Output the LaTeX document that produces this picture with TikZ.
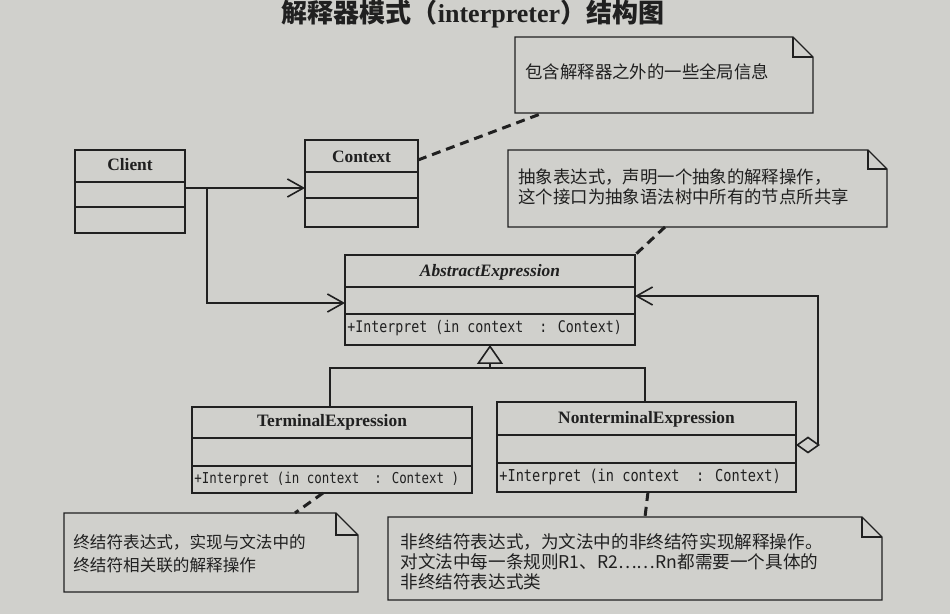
\documentclass[tikz,border=0pt]{standalone}
\usepackage{fontspec}
\setmainfont{Liberation Serif}
\newfontfamily\cjk{Noto Sans CJK SC}
\newfontfamily\opfont[FakeStretch=0.83]{DejaVu Sans Mono}
\usetikzlibrary{arrows.meta}
\definecolor{paper}{RGB}{208,208,204}
\definecolor{ink}{RGB}{32,32,32}
%% note frame with a folded corner: #1 node, #2 fold size
\newcommand\dognote[2]{%
  \draw[noteline] (#1.north west) -- ([xshift=-#2]#1.north east)
    -- ([yshift=-#2]#1.north east) -- (#1.south east) -- (#1.south west) -- cycle;
  \draw[noteline] ([xshift=-#2]#1.north east) |- ([yshift=-#2]#1.north east);
}
\begin{document}
\begin{tikzpicture}[x=0.5pt,y=-0.5pt,
    umlclass/.style={draw=ink,line width=0.8pt,inner sep=0pt,outer sep=0pt,anchor=north west},
    notebody/.style={inner sep=0pt,outer sep=0pt,anchor=north west},
    noteline/.style={draw=ink,line width=0.7pt},
    clsname/.style={font=\fontsize{8.7}{10}\selectfont\bfseries,text=ink},
    opname/.style={font=\opfont\fontsize{8}{10}\selectfont,text=ink,anchor=west,inner sep=1pt},
    notetext/.style={font=\cjk\fontsize{8.7}{10}\selectfont,align=left,anchor=west,inner sep=0pt,text=ink},
    wire/.style={draw=ink,line width=0.8pt},
    assoc/.style={wire,-{Straight Barb[length=8pt,width=9pt]}},
    generalize/.style={wire,-{Triangle[open,length=9.5pt,width=13pt]}},
    aggregate/.style={wire,{Diamond[open,length=12pt,width=8.5pt]}-{Straight Barb[length=8pt,width=9pt]}},
    notelink/.style={draw=ink,line width=1.5pt,dash pattern=on 4.5pt off 3pt}]
    %% Paper
    \fill[paper] (0,0) rectangle (950,614);
    \useasboundingbox (0,0) rectangle (950,614);
    %% Title
    \node[anchor=base,inner sep=0pt,text=ink,font=\fontsize{13}{15}\selectfont\bfseries] (title) at (473,23)
        {{\cjk 解释器模式（}interpreter{\cjk ）结构图}};
    %% Client
    \node[umlclass,minimum width=55pt,minimum height=41.5pt] (client) at (75,150) {};
    \draw[wire] (client.west |- 0,182) -- (client.east |- 0,182);
    \draw[wire] (client.west |- 0,207) -- (client.east |- 0,207);
    \node[clsname] (clientname) at (client.north |- 0,165) {Client};
    %% Context
    \node[umlclass,minimum width=56.5pt,minimum height=43.5pt] (context) at (305,140) {};
    \draw[wire] (context.west |- 0,172) -- (context.east |- 0,172);
    \draw[wire] (context.west |- 0,198) -- (context.east |- 0,198);
    \node[clsname] (contextname) at (context.north |- 0,157) {Context};
    %% AbstractExpression
    \node[umlclass,minimum width=145pt,minimum height=45pt] (abstract) at (345,255) {};
    \draw[wire] (abstract.west |- 0,287) -- (abstract.east |- 0,287);
    \draw[wire] (abstract.west |- 0,314) -- (abstract.east |- 0,314);
    \node[clsname,font=\fontsize{8.7}{10}\selectfont\bfseries\itshape] (abstractname) at (abstract.north |- 0,272) {AbstractExpression};
    \node[opname] (abstractop) at (abstract.west |- 0,328) {+Interpret (in context\ \ : Context)};
    %% TerminalExpression
    \node[umlclass,minimum width=140pt,minimum height=43pt] (terminal) at (192,407) {};
    \draw[wire] (terminal.west |- 0,438) -- (terminal.east |- 0,438);
    \draw[wire] (terminal.west |- 0,466) -- (terminal.east |- 0,466);
    \node[clsname] (terminalname) at (terminal.north |- 0,422) {TerminalExpression};
    \node[opname,font=\opfont\fontsize{7.5}{10}\selectfont] (terminalop) at (terminal.west |- 0,479) {+Interpret (in context\ \ : Context )};
    %% NonterminalExpression
    \node[umlclass,minimum width=149.5pt,minimum height=45pt] (nonterminal) at (497,402) {};
    \draw[wire] (nonterminal.west |- 0,435) -- (nonterminal.east |- 0,435);
    \draw[wire] (nonterminal.west |- 0,463) -- (nonterminal.east |- 0,463);
    \node[clsname] (nonterminalname) at (nonterminal.north |- 0,419) {NonterminalExpression};
    \node[opname,font=\opfont\fontsize{8.2}{10}\selectfont] (nonterminalop) at (nonterminal.west |- 0,477) {+Interpret (in context\ \ : Context)};
    %% Notes
    \node[notebody,minimum width=149pt,minimum height=38pt] (note1) at (515,37) {};
    \dognote{note1}{10pt}
    \node[notetext] (note1text) at (525,72) {包含解释器之外的一些全局信息};
    \node[notebody,minimum width=189.5pt,minimum height=38.5pt] (note2) at (508,150) {};
    \dognote{note2}{9.5pt}
    \node[notetext] (note2text) at (518,187) {抽象表达式，声明一个抽象的解释操作，\\这个接口为抽象语法树中所有的节点所共享};
    \node[notebody,minimum width=147pt,minimum height=39.5pt] (note3) at (64,513) {};
    \dognote{note3}{11pt}
    \node[notetext,font=\cjk\fontsize{8.3}{11.5}\selectfont] (note3text) at (73,554) {终结符表达式，实现与文法中的\\终结符相关联的解释操作};
    \node[notebody,minimum width=247pt,minimum height=41.5pt] (note4) at (388,517) {};
    \dognote{note4}{10pt}
    \node[notetext,font=\cjk\fontsize{8.8}{10}\selectfont] (note4text) at (400,562) {非终结符表达式，为文法中的非终结符实现解释操作。\\对文法中每一条规则R1、R2……Rn都需要一个具体的\\非终结符表达式类};
    %% Associations
    \draw[assoc] (client.east |- 0,188) -- (context.west |- 0,188);
    \coordinate (branch) at (207,188);
    \draw[assoc] (branch) |- (abstract.west |- 0,303);
    %% Generalization
    \coordinate (split) at (490,368);
    \draw[generalize] (split) -- (abstract.south);
    \draw[wire] (terminal.north -| 330,0) |- (split) -| (nonterminal.north -| 645,0);
    %% Aggregation
    \coordinate (loop) at (818,296);
    \draw[aggregate] (nonterminal.east |- 0,445) -| (loop) -- (abstract.east |- loop);
    %% Note links
    \draw[notelink] (context.east |- 0,160) -- (note1.south -| 543,0);
    \draw[notelink] (note2.south -| 665,0) -- (abstract.north east);
    \draw[notelink] (terminal.south -| 323,0) -- (note3.north -| 295,0);
    \draw[notelink] (nonterminal.south -| 648,0) -- (note4.north -| 645,0);
\end{tikzpicture}
\end{document}
